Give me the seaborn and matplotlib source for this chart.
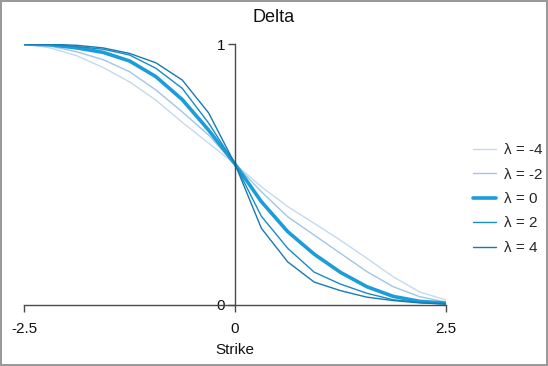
import matplotlib
matplotlib.use("Agg")
import matplotlib.pyplot as plt
import numpy as np
import pandas as pd
import seaborn as sns

# strike grid (17 points from -2.5 to 2.5)
strike = [-2.5, -2.1875, -1.875, -1.5625, -1.25, -0.9375, -0.625, -0.3125, 0.0,
          0.3125, 0.625, 0.9375, 1.25, 1.5625, 1.875, 2.1875, 2.5]

delta_m4 = [1.0, 0.985, 0.955, 0.91, 0.855, 0.785, 0.70, 0.62, 0.54,
            0.453, 0.377, 0.313, 0.248, 0.179, 0.108, 0.05, 0.019]
delta_m2 = [1.0, 0.992, 0.97, 0.94, 0.894, 0.824, 0.74, 0.651, 0.54,
            0.434, 0.338, 0.268, 0.198, 0.128, 0.07, 0.032, 0.011]
delta_0 = [1.0, 0.997, 0.985, 0.968, 0.935, 0.875, 0.787, 0.67, 0.54,
           0.396, 0.281, 0.195, 0.125, 0.07, 0.033, 0.014, 0.007]
delta_p2 = [1.0, 0.998, 0.99, 0.98, 0.958, 0.907, 0.83, 0.697, 0.54,
            0.34, 0.217, 0.126, 0.08, 0.045, 0.02, 0.01, 0.005]
delta_p4 = [1.0, 0.999, 0.995, 0.985, 0.964, 0.928, 0.862, 0.736, 0.54,
            0.294, 0.165, 0.088, 0.055, 0.03, 0.017, 0.008, 0.004]

labels = ["λ = -4", "λ = -2", "λ = 0", "λ = 2", "λ = 4"]
series = [delta_m4, delta_m2, delta_0, delta_p2, delta_p4]
colors = ["#c3daf0", "#9fc6e8", "#1b9dd9", "#1a8bc4", "#1a7aae"]
widths = [1.0, 1.0, 2.6, 1.0, 1.0]

sns.set_style("white")
plt.rcParams["font.family"] = ["Liberation Sans", "DejaVu Sans"]

df = pd.DataFrame({"Strike": strike * len(labels),
                   "Delta": np.concatenate(series),
                   "lam": np.repeat(labels, len(strike))})

fig = plt.figure(figsize=(5.48, 3.66), dpi=100)
ax = fig.add_axes([24 / 548, 61 / 366, 422 / 548, 261 / 366])

for lab, col, lw in zip(labels, colors, widths):
    sns.lineplot(data=df[df["lam"] == lab], x="Strike", y="Delta", ax=ax,
                 color=col, linewidth=lw, label=lab, legend=False)

ax.set_xlim(-2.5, 2.5)
ax.set_ylim(0, 1)
ax.spines["left"].set_position(("data", 0))
ax.spines["top"].set_visible(False)
ax.spines["right"].set_visible(False)
for s in ["left", "bottom"]:
    ax.spines[s].set_color("#4a4a4a")
    ax.spines[s].set_linewidth(1.0)

ax.set_xticks([-2.5, 0, 2.5])
ax.set_xticklabels(["-2.5", "0", "2.5"])
ax.set_yticks([0, 1])
ax.set_yticklabels(["0", "1"])
ax.tick_params(axis="both", direction="out", length=5, width=1, color="#4a4a4a",
               labelsize=11, labelcolor="#111111", left=True, bottom=True)
ax.tick_params(axis="x", pad=7)
ax.tick_params(axis="y", pad=2)
ax.set_xlabel("Strike", fontsize=11, color="#111111", labelpad=5)
ax.set_ylabel("")

fig.text(0.5, 1 - 17 / 366, "Delta", ha="center", va="center", fontsize=13, color="#111111")

handles, _ = ax.get_legend_handles_labels()
fig.legend(handles, labels, loc="center left", bbox_to_anchor=(0.838, 0.456),
           frameon=False, fontsize=11, handlelength=1.5, labelspacing=0.68,
           handletextpad=0.5)

fig.patch.set_edgecolor("#9a9a9a")
fig.patch.set_linewidth(1.5)

fig.savefig("out.png", dpi=100, edgecolor=fig.get_edgecolor())
